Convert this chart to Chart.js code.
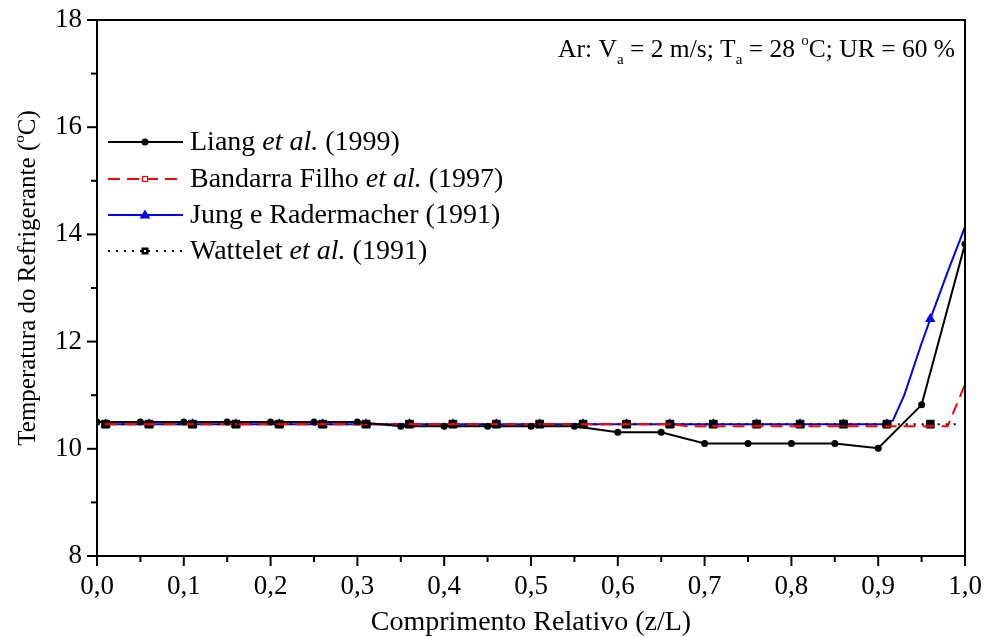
<!DOCTYPE html>
<html><head><meta charset="utf-8">
<script src="https://cdn.jsdelivr.net/npm/chart.js@4"></script>
<style>html,body{margin:0;padding:0;background:#fff}#wrap{width:988px;height:637px;position:relative}</style>
</head><body><div id="wrap"><canvas id="c"></canvas></div>
<script>
// ---- data ----
const xLiang = [0,0.05,0.1,0.15,0.2,0.25,0.3,0.35,0.4,0.45,0.5,0.55,0.6,0.65,0.7,0.75,0.8,0.85,0.9,0.95,1.0];
const yLiang = [10.5,10.5,10.5,10.5,10.5,10.5,10.5,10.42,10.42,10.42,10.42,10.42,10.31,10.31,10.1,10.1,10.1,10.1,10.01,10.82,13.82];

const xBandarra = [0.01,0.06,0.11,0.16,0.21,0.26,0.31,0.36,0.41,0.46,0.51,0.56,0.61,0.66,0.68,0.71,0.76,0.81,0.86,0.91,0.96,0.98,1.0];
const yBandarra = [10.46,10.46,10.46,10.46,10.46,10.46,10.46,10.46,10.46,10.46,10.46,10.46,10.46,10.46,10.42,10.42,10.42,10.42,10.42,10.42,10.42,10.42,11.2];

const xJung = [0.01,0.06,0.11,0.16,0.21,0.26,0.31,0.36,0.41,0.46,0.51,0.56,0.61,0.66,0.71,0.76,0.81,0.86,0.91,0.917,0.93,0.95,0.96,0.98,1.0];
const yJung = [10.46,10.46,10.46,10.46,10.46,10.46,10.46,10.46,10.46,10.46,10.46,10.46,10.46,10.46,10.46,10.46,10.46,10.46,10.46,10.53,11.0,11.97,12.42,13.3,14.14];

const xWattelet = [0.01,0.06,0.11,0.16,0.21,0.26,0.31,0.36,0.41,0.46,0.51,0.56,0.61,0.66,0.71,0.76,0.81,0.86,0.91,0.96,0.99];
const yWattelet = [10.46,10.46,10.46,10.46,10.46,10.46,10.46,10.46,10.46,10.46,10.46,10.46,10.46,10.46,10.46,10.46,10.46,10.46,10.46,10.46,10.46];

// x positions that carry a marker symbol (for the three offset series)
const markerX = [0.01,0.06,0.11,0.16,0.21,0.26,0.31,0.36,0.41,0.46,0.51,0.56,0.61,0.66,0.71,0.76,0.81,0.86,0.91,0.96];

const xTicks = [0,0.1,0.2,0.3,0.4,0.5,0.6,0.7,0.8,0.9,1.0];
const xTickLabels = ['0,0','0,1','0,2','0,3','0,4','0,5','0,6','0,7','0,8','0,9','1,0'];
const yTicks = [8,10,12,14,16,18];
const yTickLabels = ['8','10','12','14','16','18'];

const legendItems = [
  {parts:[['Liang ',0],['et al.',1],[' (1999)',0]]},
  {parts:[['Bandarra Filho ',0],['et al.',1],[' (1997)',0]]},
  {parts:[['Jung e Radermacher (1991)',0]]},
  {parts:[['Wattelet ',0],['et al.',1],[' (1991)',0]]}
];

const SERIF = '"Liberation Serif","Times New Roman",serif';

function pts(xs, ys){ return xs.map((x,i)=>({x:x,y:ys[i]})); }
function hasMarker(x){ return markerX.some(m=>Math.abs(m-x)<1e-6); }

const datasets = [
  {label:'Liang et al. (1999)', data:pts(xLiang,yLiang), borderColor:'#000', backgroundColor:'#000',
   borderWidth:2, pointStyle:'circle', pointRadius:3.5, pointBorderWidth:0, order:1},
  {label:'Bandarra Filho et al. (1997)', data:pts(xBandarra,yBandarra), borderColor:'#ff0000', backgroundColor:'#ff0000',
   borderWidth:2, borderDash:[12,7], pointStyle:'rect', pointBorderColor:'#ff0000', pointBackgroundColor:'#ff0000',
   pointBorderWidth:0, pointRadius:c=>hasMarker(c.raw.x)?1.5:0, order:2},
  {label:'Wattelet et al. (1991)', data:pts(xWattelet,yWattelet), borderColor:'#000', backgroundColor:'#000',
   borderWidth:2, borderDash:[2,6], pointStyle:'rect', pointBorderColor:'#000', pointBackgroundColor:'#000',
   pointBorderWidth:1, pointRadius:c=>hasMarker(c.raw.x)?5.5:0, order:3},
  {label:'Jung e Radermacher (1991)', data:pts(xJung,yJung), borderColor:'#0000ff', backgroundColor:'#0000ff',
   borderWidth:2, pointStyle:'triangle', pointBorderWidth:0, pointRadius:c=>hasMarker(c.raw.x)?6:0, order:4}
];

const L = {left:97, right:965, top:20, bottom:556};

function drawMarker(ctx, style, x, y){
  ctx.save();
  if(style==='circle'){ctx.fillStyle='#000';ctx.beginPath();ctx.arc(x,y,3.5,0,Math.PI*2);ctx.fill();}
  if(style==='redsq'){ctx.fillStyle='#fff';ctx.strokeStyle='#f00';ctx.lineWidth=1.2;ctx.fillRect(x-2.5,y-2.5,5,5);ctx.strokeRect(x-2.5,y-2.5,5,5);}
  if(style==='tri'){ctx.fillStyle='#00f';ctx.beginPath();ctx.moveTo(x,y-5.5);ctx.lineTo(x+5.5,y+3.5);ctx.lineTo(x-5.5,y+3.5);ctx.closePath();ctx.fill();}
  if(style==='blksq'){ctx.fillStyle='#000';ctx.fillRect(x-3.5,y-3.5,7,7);ctx.fillStyle='#fff';ctx.fillRect(x-1,y-1,2,2);}
  ctx.restore();
}

function drawParts(ctx, parts, x, y, size){
  let cx=x;
  parts.forEach(p=>{
    ctx.font=(p[1]?'italic ':'')+size+'px '+SERIF;
    ctx.fillText(p[0],cx,y);
    cx+=ctx.measureText(p[0]).width;
  });
}

const framePlugin = {
  id:'frame',
  afterDraw(chart){
    const ctx=chart.ctx, a=chart.chartArea, xs=chart.scales.x, ys=chart.scales.y;
    ctx.save();
    ctx.strokeStyle='#000'; ctx.lineWidth=2;
    ctx.strokeRect(a.left,a.top,a.right-a.left,a.bottom-a.top);
    // x ticks (major 0.1, minor 0.05)
    for(let i=0;i<=20;i++){
      const v=i*0.05, px=xs.getPixelForValue(v), len=(i%2===0)?10:6;
      ctx.beginPath();ctx.moveTo(px,a.bottom);ctx.lineTo(px,a.bottom+len);ctx.stroke();
    }
    for(let v=8;v<=18;v++){
      const py=ys.getPixelForValue(v), len=(v%2===0)?10:6;
      ctx.beginPath();ctx.moveTo(a.left,py);ctx.lineTo(a.left-len,py);ctx.stroke();
    }
    // tick labels
    ctx.fillStyle='#000';
    ctx.font='27px '+SERIF;
    ctx.textAlign='center'; ctx.textBaseline='alphabetic';
    xTicks.forEach((v,i)=>{ ctx.fillText(xTickLabels[i], xs.getPixelForValue(v), 594); });
    ctx.textAlign='right'; ctx.textBaseline='middle';
    yTicks.forEach((v,i)=>{ ctx.fillText(yTickLabels[i], 82, ys.getPixelForValue(v)); });
    // x title
    ctx.textAlign='center'; ctx.textBaseline='alphabetic'; ctx.font='28px '+SERIF;
    ctx.fillText('Comprimento Relativo (z/L)', 531, 630);
    // legend
    const rows=[142,179,215,251];
    const styles=[
      {c:'#000',d:[],m:'circle'},
      {c:'#f00',d:[12,7],m:'redsq'},
      {c:'#00f',d:[],m:'tri'},
      {c:'#000',d:[2,6],m:'blksq'}
    ];
    ctx.textBaseline='middle'; ctx.textAlign='left';
    legendItems.forEach((it,i)=>{
      const y=rows[i], s=styles[i];
      ctx.save();ctx.strokeStyle=s.c;ctx.lineWidth=2;ctx.setLineDash(s.d);
      ctx.beginPath();ctx.moveTo(108,y);ctx.lineTo(183,y);ctx.stroke();ctx.restore();
      drawMarker(ctx,s.m,145,y);
      ctx.fillStyle='#000';
      drawParts(ctx,it.parts,190,y+1,28);
    });
    // annotation (top right)
    ctx.textBaseline='alphabetic';
    const big=25.5, small=15;
    const seg=[['Ar: V',big,0],['a',small,7],[' = 2 m/s; T',big,0],['a',small,7],[' = 28 ',big,0],['o',small,-12],['C; UR = 60 %',big,0]];
    let w=0; seg.forEach(s=>{ctx.font=s[1]+'px '+SERIF; w+=ctx.measureText(s[0]).width;});
    let cx=955-w;
    seg.forEach(s=>{ctx.font=s[1]+'px '+SERIF; ctx.fillText(s[0],cx,57+s[2]); cx+=ctx.measureText(s[0]).width;});
    // y-axis title (rotated)
    ctx.save();
    ctx.translate(35,278); ctx.rotate(-Math.PI/2);
    const ys2=[['Temperatura do Refrigerante (',25,0],['o',15,-11],['C)',25,0]];
    let tw=0; ys2.forEach(s=>{ctx.font=s[1]+'px '+SERIF; tw+=ctx.measureText(s[0]).width;});
    let tx=-tw/2;
    ys2.forEach(s=>{ctx.font=s[1]+'px '+SERIF; ctx.fillText(s[0],tx,0+s[2]); tx+=ctx.measureText(s[0]).width;});
    ctx.restore();
    ctx.restore();
  }
};

new Chart(document.getElementById('c'), {
  type:'line',
  data:{datasets:datasets},
  options:{
    responsive:true, maintainAspectRatio:false, animation:false,
    layout:{padding:{top:L.top,right:988-L.right,left:0,bottom:0}},
    plugins:{legend:{display:false},tooltip:{enabled:false}},
    elements:{line:{tension:0}},
    scales:{
      x:{type:'linear',min:0,max:1,
         afterFit:s=>{s.height=637-L.bottom;},
         grid:{display:false},border:{display:false},
         ticks:{display:false}},
      y:{type:'linear',min:8,max:18,
         afterFit:s=>{s.width=L.left;},
         grid:{display:false},border:{display:false},
         ticks:{display:false}}
    }
  },
  plugins:[framePlugin]
});
</script>
</body></html>
